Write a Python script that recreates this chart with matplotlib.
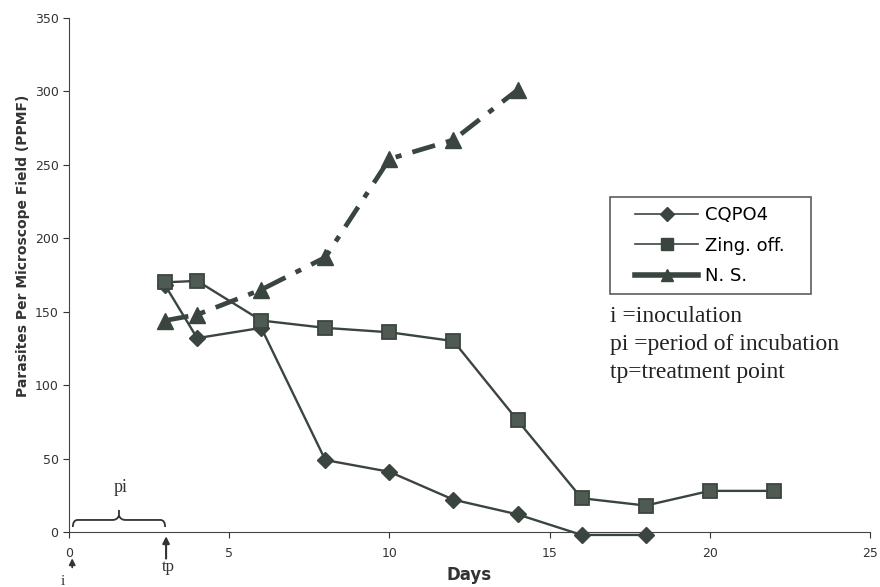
import numpy as np
import matplotlib.pyplot as plt
from matplotlib.lines import Line2D
from matplotlib.path import Path
from matplotlib.patches import PathPatch
from matplotlib.legend_handler import HandlerLine2D

# Dữ liệu
days_cq = [3, 4, 6, 8, 10, 12, 14, 16, 18]
cqpo4 = [168, 132, 139, 49, 41, 22, 12, -2, -2]

days_zing = [3, 4, 6, 8, 10, 12, 14, 16, 18, 20, 22]
zing = [170, 171, 144, 139, 136, 130, 76, 23, 18, 28, 28]

days_ns = [3, 4, 6, 8, 10, 12, 14]
ns = [144, 148, 165, 187, 254, 267, 301]

x_ticks = [0, 5, 10, 15, 20, 25]
y_ticks = [0, 50, 100, 150, 200, 250, 300, 350]

col = '#3b4540'
serif = ['Liberation Serif', 'DejaVu Serif']

fig = plt.figure(figsize=(8.8, 5.87), dpi=100)
ax = fig.add_axes([69 / 880, 1 - 532 / 587, (870 - 69) / 880, (532 - 18) / 587])

ax.plot(days_cq, cqpo4, color=col, lw=1.7, marker='D', ms=8.5, mfc=col, mec=col,
        clip_on=False)
ax.plot(days_zing, zing, color=col, lw=1.7, marker='s', ms=10, mfc='#4e5a52', mec=col,
        mew=1.3, clip_on=False)
ax.plot(days_ns, ns, color=col, lw=3.4, marker='^', ms=11, mfc=col, mec=col,
        dashes=(5, 2.4, 1.3, 2.4))

ax.set_xlim(0, 25)
ax.set_ylim(0, 350)
ax.set_xticks(x_ticks)
ax.set_yticks(y_ticks)
ax.tick_params(labelsize=9, colors='#333333', direction='out', length=4)
ax.tick_params(axis='x', pad=7)
for s in ['top', 'right']:
    ax.spines[s].set_visible(False)
for s in ['left', 'bottom']:
    ax.spines[s].set_color('#444444')
ax.set_xlabel('Days', fontsize=12, fontweight='bold', color='#333333', labelpad=4)
ax.set_ylabel('Parasites Per Microscope Field (PPMF)', fontsize=10, fontweight='bold',
              color='#333333')
ax.yaxis.set_label_coords(-0.049, 0.556)

# Chú giải
handles = [
    Line2D([], [], color=col, lw=1.2, marker='D', ms=7, mfc=col),
    Line2D([], [], color=col, lw=1.2, marker='s', ms=8, mfc=col),
    Line2D([], [], color=col, lw=4, marker='^', ms=9, mfc=col),
]
hmap = {h: HandlerLine2D(xpad=0.9) for h in handles}
leg = ax.legend(handles, ['CQPO4', 'Zing. off.   ', 'N. S.'], loc='upper left',
                bbox_to_anchor=(0.675, 0.652), fontsize=13, frameon=True,
                fancybox=False, edgecolor='#333333', handlelength=4.4,
                handletextpad=0.4, labelspacing=0.7, borderpad=0.5,
                borderaxespad=0, handler_map=hmap)
leg.get_frame().set_linewidth(1.2)

# Ghi chú bên phải
notes = 'i =inoculation\npi =period of incubation\ntp=treatment point'
ax.text(16.9, 154, notes, family=serif, fontsize=17,
        color='#222222', va='top', linespacing=1.45)

# Dấu ngoặc nhọn cho pi
x0, x1, yb, yh, yt = 0.12, 3.0, 3.4, 8.2, 15
xm = (x0 + x1) / 2
verts = [(x0, yb), (x0, yh), (x0 + 0.15, yh), (xm - 0.2, yh),
         (xm - 0.05, yh), (xm, yh + 3), (xm, yt),
         (xm, yh + 3), (xm + 0.05, yh), (xm + 0.2, yh),
         (x1 - 0.15, yh), (x1, yh), (x1, yb)]
codes = [Path.MOVETO, Path.CURVE3, Path.CURVE3, Path.LINETO,
         Path.CURVE3, Path.CURVE3, Path.LINETO,
         Path.MOVETO, Path.CURVE3, Path.CURVE3,
         Path.LINETO, Path.CURVE3, Path.CURVE3]
brace = PathPatch(Path(verts, codes), fc='none', ec='#333333', lw=1.3, clip_on=False)
ax.add_patch(brace)
ax.text(1.6, 30, 'pi', family=serif, fontsize=13,
        ha='center', va='center', color='#333333')

# Mũi tên i và tp
ax.annotate('', xy=(0.1, -16), xytext=(0.1, -26), annotation_clip=False,
            arrowprops=dict(arrowstyle='-|>', color='#333333', lw=1.3, mutation_scale=9))
ax.annotate('', xy=(3.03, -1), xytext=(3.03, -20), annotation_clip=False,
            arrowprops=dict(arrowstyle='-|>', color='#333333', lw=1.5, mutation_scale=10))
ax.text(-0.2, -29, 'i', family=serif, fontsize=11,
        ha='center', va='top', color='#333333')
ax.text(3.1, -24, 'tp', family=serif, fontsize=12,
        ha='center', va='center', color='#333333')

fig.savefig('out.png', dpi=100)
